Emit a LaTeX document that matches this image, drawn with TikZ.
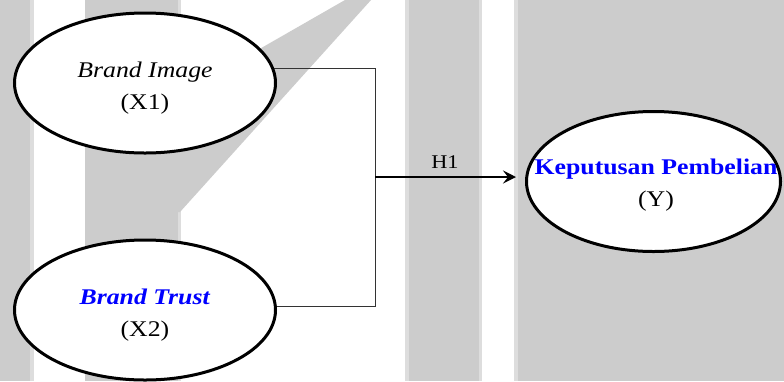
\documentclass[tikz,border=0pt]{standalone}
\usepackage{fontspec}
\setmainfont{Liberation Serif}[FakeStretch=1.15]
\usetikzlibrary{shapes.geometric,arrows.meta}
\definecolor{wmgray}{HTML}{CCCCCC}
\definecolor{wmlight}{HTML}{DDDDDD}
\definecolor{lblue}{HTML}{0000FF}
\pgfdeclarelayer{wm}
\pgfdeclarelayer{bg}
\pgfsetlayers{wm,bg,main}
\begin{document}
\begin{tikzpicture}[x=1bp,y=-1bp,
  var/.style={ellipse, draw=black, line width=3bp, fill=white, inner sep=0pt,
              minimum width=261bp, minimum height=140bp},
  lbl/.style={align=center, font=\fontsize{22.5}{32}\selectfont, inner sep=0pt},
  hlbl/.style={font=\fontsize{19.5}{22}\selectfont, inner sep=0pt},
  conn/.style={draw=black!80, line width=1bp},
  arr/.style={draw=black, line width=2bp, -{Stealth[length=13bp,width=13bp,inset=5bp]}}]
\useasboundingbox (0,0) rectangle (784,381);
% watermark background
\begin{pgfonlayer}{wm}
  \fill[white] (0,0) rectangle (784,381);
  \fill[wmgray] (0,0) rectangle (30,381);
  \fill[wmlight] (30,0) rectangle (34,381);
  \fill[wmgray] (85,0) rectangle (178,381);
  \fill[wmlight] (178,0) rectangle (181,381);
  \fill[wmgray] (178,96) -- (263,47) -- (345,0) -- (371,0) -- (180,212) -- (178,212) -- cycle;
  \fill[wmlight] (405,0) rectangle (409,381);
  \fill[wmgray] (409,0) rectangle (479,381);
  \fill[wmlight] (479,0) rectangle (482,381);
  \fill[wmlight] (514,0) rectangle (518,381);
  \fill[wmgray] (518,0) rectangle (784,381);
\end{pgfonlayer}
% variables
\node[var] (X1) at (145,83) {};
\node[var] (X2) at (145,310) {};
\node[var, minimum width=254bp] (Y) at (653.5,181.5) {};
\node[lbl] (X1t) at (145,88) {\textit{Brand Image}\\(X1)};
\node[lbl] (X2t) at (145,315) {\textcolor{lblue}{\textbf{\textit{Brand Trust}}}\\(X2)};
\node[lbl] (Yt) at (656,185) {\textcolor{lblue}{\textbf{Keputusan Pembelian}}\\(Y)};
% junctions
\coordinate (j1) at (375,68);
\coordinate (j2) at (375,306);
\coordinate (jm) at (375,177);
\begin{pgfonlayer}{bg}
  \draw[conn] (X1.center |- j1) -- (j1) -- (j2) -- (X2.center |- j2);
\end{pgfonlayer}
\draw[arr, shorten >=9bp] (jm) -- (jm -| Y.west);
\node[hlbl] (H1) at (445,162) {H1};
\end{tikzpicture}
\end{document}
